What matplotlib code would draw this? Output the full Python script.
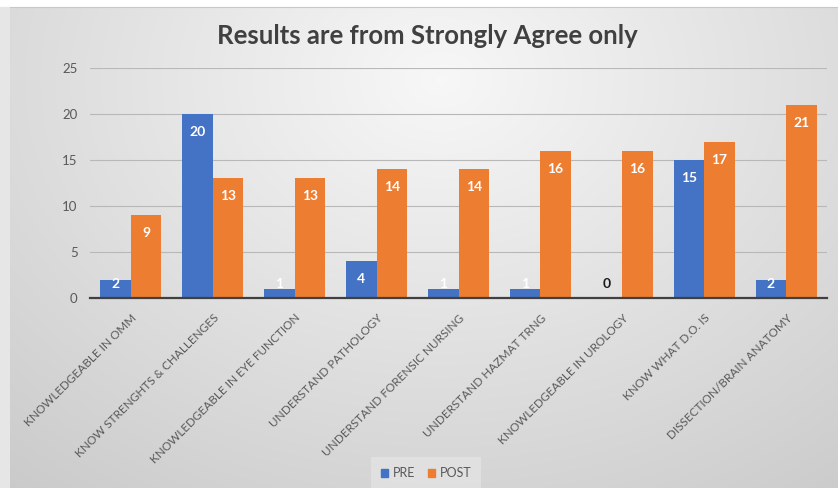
import numpy as np
import matplotlib
matplotlib.use("Agg")
from matplotlib import pyplot as plt
from matplotlib.patches import Patch
import matplotlib.transforms as mtransforms

plt.rcParams['font.family'] = ['Lato', 'DejaVu Sans']

categories = ["KNOWLEDGEABLE IN OMM", "KNOW STRENGHTS & CHALLENGES",
              "KNOWLEDGEABLE IN EYE FUNCTION", "UNDERSTAND PATHOLOGY",
              "UNDERSTAND FORENSIC NURSING", "UNDERSTAND HAZMAT TRNG",
              "KNOWLEDGEABLE IN UROLOGY", "KNOW WHAT D.O. IS",
              "DISSECTION/BRAIN ANATOMY"]
pre = [2, 20, 1, 4, 1, 1, 0, 15, 2]
post = [9, 13, 13, 14, 14, 16, 16, 17, 21]
yticks = [0, 5, 10, 15, 20, 25]
title = "Results are from Strongly Agree only"

c_pre = "#4472C4"
c_post = "#ED7D31"
grey_txt = "#595959"

fig = plt.figure(figsize=(8.38, 4.88), dpi=100, facecolor="white")

# gradient background (chart area)
bg = fig.add_axes([10 / 838, 0, 828 / 838, 481 / 488], zorder=-5)
h, w = 240, 420
u = np.linspace(0, 1, w)[None, :]
v = np.linspace(0, 1, h)[:, None]
d = np.sqrt(((u - 0.52) / 0.75) ** 2 + ((v - 0.15) / 1.0) ** 2)
shade = np.clip(0.97 - 0.16 * d, 0, 1)
bg.imshow(np.dstack([shade, shade, shade]), aspect="auto", extent=[0, 1, 0, 1])
bg.set_axis_off()
fig.add_artist(plt.Rectangle((0, 0), 10 / 838, 481 / 488, transform=fig.transFigure,
                             color="#e6e6e6", zorder=-6))
fig.add_artist(plt.Line2D([10 / 838, 1], [481 / 488, 481 / 488], transform=fig.transFigure,
                          color="#c8c8c8", lw=0.8))

ax = fig.add_axes([90 / 838, 190 / 488, 737 / 838, 230 / 488])
ax.set_facecolor("none")
x = np.arange(len(categories))
bw = 0.372
b1 = ax.bar(x - bw / 2, pre, bw, color=c_pre, zorder=3)
b2 = ax.bar(x + bw / 2, post, bw, color=c_post, zorder=3)

for xs, vals in [(x - bw / 2, pre), (x + bw / 2, post)]:
    for xi, val in zip(xs, vals):
        ly = max(val - 1.96, 1.52)
        col = "white" if val > 0 else "#1a1a1a"
        ax.text(xi, ly, str(val), ha="center", va="center", color=col,
                fontsize=10, fontweight="bold", zorder=4)

ax.set_xlim(-0.5, len(categories) - 0.5)
ax.set_ylim(0, 25)
ax.set_yticks(yticks)
ax.set_yticklabels([str(t) for t in yticks], color=grey_txt, fontsize=9.5)
ax.tick_params(axis="y", length=0, pad=9)
ax.tick_params(axis="x", length=0, pad=13)
ax.set_xticks(x)
ax.set_xticklabels(categories, rotation=45, ha="right", va="center",
                   rotation_mode="anchor", color=grey_txt, fontsize=8.5)
off = mtransforms.ScaledTranslation(4 / 100, 0, fig.dpi_scale_trans)
for lab in ax.get_xticklabels():
    lab.set_transform(lab.get_transform() + off)

ax.grid(axis="y", color="#b8b8b8", lw=0.8, zorder=0)
ax.set_axisbelow(True)
for s in ["top", "right", "left"]:
    ax.spines[s].set_visible(False)
ax.spines["bottom"].set_color("#404040")
ax.spines["bottom"].set_linewidth(1.6)
ax.spines["bottom"].set_zorder(5)

fig.text(427 / 838, 1 - 36 / 488, title, ha="center", va="center",
         fontsize=18.5, fontweight="bold", color="#404040")

handles = [Patch(color=c_pre, label="PRE"), Patch(color=c_post, label="POST")]
leg = fig.legend(handles=handles, loc="lower center", bbox_to_anchor=(426 / 838, -0.008),
                 ncol=2, fontsize=9, frameon=True, handlelength=0.55, handleheight=0.55,
                 handletextpad=0.4, columnspacing=1.0, borderpad=0.5)
leg.get_frame().set_facecolor("#e3e3e3")
leg.get_frame().set_edgecolor("none")
leg.get_frame().set_boxstyle("square")
for t in leg.get_texts():
    t.set_color(grey_txt)

fig.savefig("out.png", dpi=100)
